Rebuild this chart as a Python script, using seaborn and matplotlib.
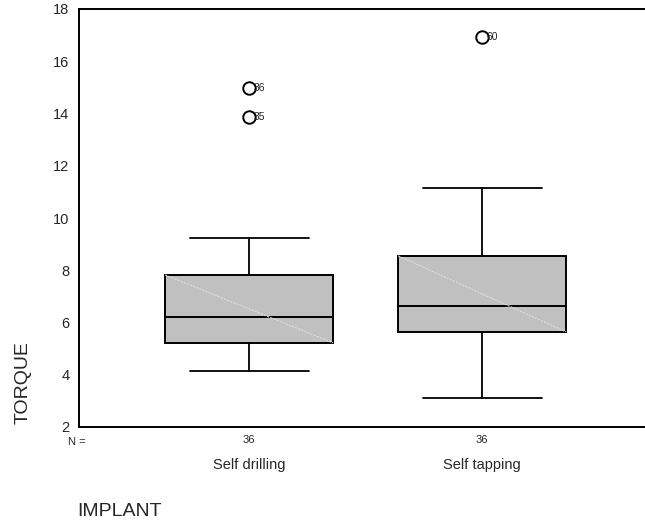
import matplotlib
matplotlib.use("Agg")
import matplotlib.pyplot as plt
import matplotlib.transforms as mtransforms
import seaborn as sns

# ---- data ----
categories = ["Self drilling", "Self tapping"]
counts = [36, 36]
whisker_low = [4.14, 3.11]
q1 = [5.22, 5.64]
median = [6.21, 6.63]
q3 = [7.82, 8.55]
whisker_high = [9.23, 11.15]
outlier_values = [[13.87, 14.98], [16.93]]
outlier_ids = [["35", "36"], ["60"]]
yticks = [2, 4, 6, 8, 10, 12, 14, 16, 18]

sns.set_style("white")
plt.rcParams["font.family"] = ["Liberation Sans", "DejaVu Sans"]

fig = plt.figure(figsize=(6.45, 5.29), dpi=100)
# axes extends past the right edge of the figure, as in the reference
ax = fig.add_axes([79 / 645, 102 / 529, 578 / 645, 418 / 529])

stats = []
for i, cat in enumerate(categories):
    stats.append(dict(label=cat, whislo=whisker_low[i], q1=q1[i], med=median[i],
                      q3=q3[i], whishi=whisker_high[i], fliers=outlier_values[i]))

positions = list(range(len(categories)))
box_w = 0.72
ax.bxp(stats, positions=positions, widths=box_w, capwidths=0.51,
       patch_artist=True, showfliers=True,
       boxprops=dict(facecolor="#c0c0c0", edgecolor="black", linewidth=1.4),
       medianprops=dict(color="black", linewidth=1.4),
       whiskerprops=dict(color="black", linewidth=1.3),
       capprops=dict(color="black", linewidth=1.3),
       flierprops=dict(marker="o", markersize=9, markerfacecolor="white",
                       markeredgecolor="black", markeredgewidth=1.4))

# faint diagonal artifact inside each box
for i in positions:
    ax.plot([i - box_w / 2, i + box_w / 2], [q3[i], q1[i]], color="#dedede",
            linewidth=0.8, linestyle=(0, (2, 1)), zorder=3)

# outlier case labels (drawn over the circles, as in the reference)
for i in positions:
    for v, lab in zip(outlier_values[i], outlier_ids[i]):
        ax.text(i + 0.018, v, lab, fontsize=7.5, va="center", ha="left",
                color="#222222", zorder=6)

ax.set_xlim(-0.73, 1.75)
ax.set_ylim(2, 18)
ax.set_yticks(yticks)
ax.set_yticklabels([str(t) for t in yticks], fontsize=10.5)
ax.set_xticks(positions)
ax.set_xticklabels([str(c) for c in counts], fontsize=8)
ax.tick_params(axis="both", direction="out", length=5, width=1, color="black", pad=2)
ax.tick_params(axis="x", length=4, pad=1.5)

for side in ["left", "bottom", "top"]:
    ax.spines[side].set_visible(True)
    ax.spines[side].set_color("black")
    ax.spines[side].set_linewidth(1.4)
ax.spines["right"].set_visible(False)

trans = mtransforms.blended_transform_factory(ax.transData, fig.transFigure)
for i, cat in enumerate(categories):
    ax.text(i, 1 - 465 / 529, cat, transform=trans, ha="center", va="center", fontsize=10.5)

fig.text(77 / 645, 1 - 442 / 529, "N =", ha="center", va="center", fontsize=8)
fig.text(119 / 645, 1 - 512 / 529, "IMPLANT", ha="center", va="center", fontsize=14)
fig.text(23 / 645, 1 - 383 / 529, "TORQUE", ha="center", va="center", fontsize=14, rotation=90)

fig.savefig("out.png", dpi=100)
